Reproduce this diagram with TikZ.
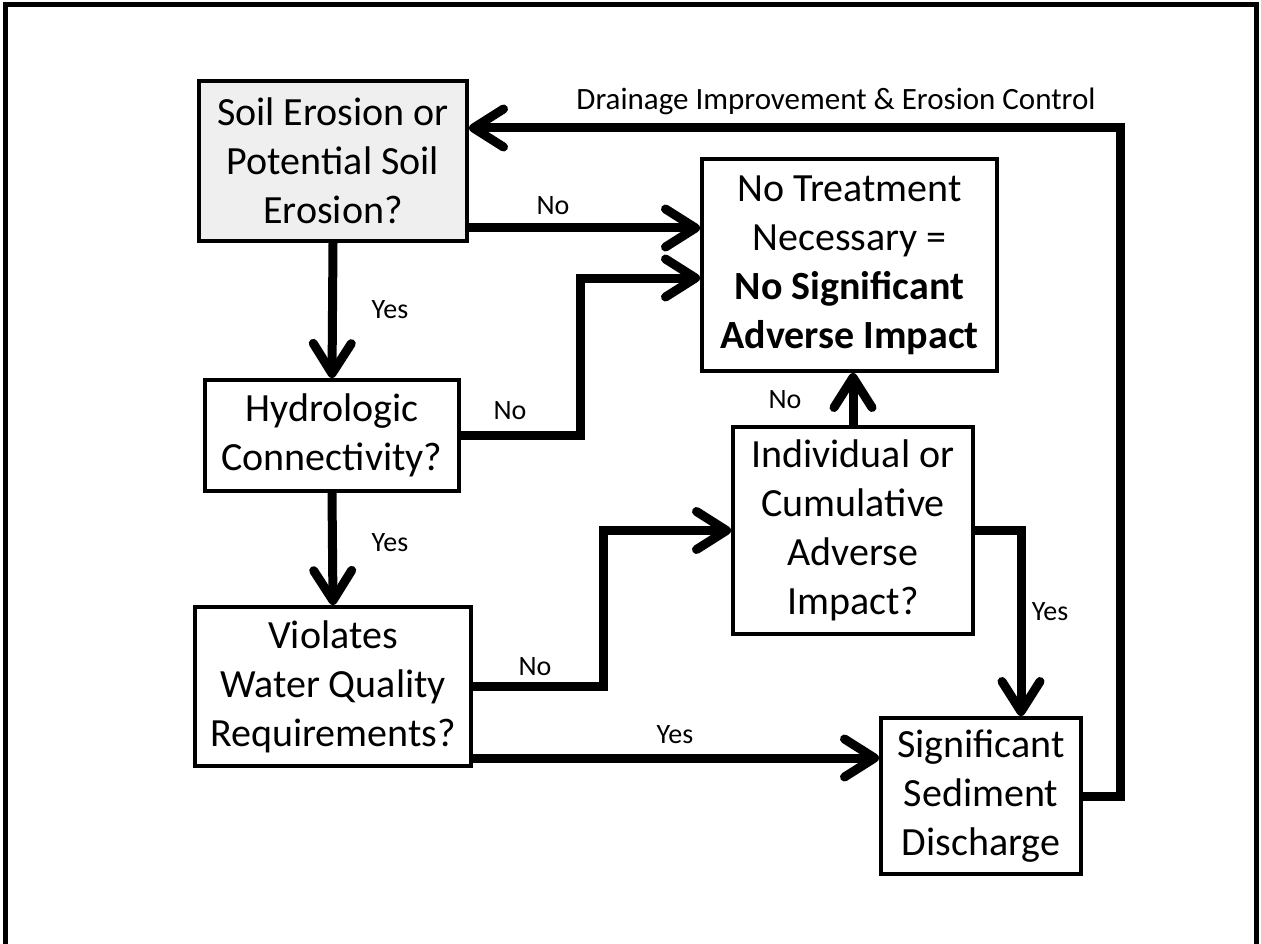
\documentclass[tikz,border=0pt]{standalone}
\usepackage{fontspec}
\setmainfont{Carlito}
\usetikzlibrary{arrows.meta,calc}
\definecolor{boxgray}{HTML}{EFEFEF}
\begin{document}
\begin{tikzpicture}[x=1pt,y=-1pt,
  box/.style={draw, line width=4pt, align=center, inner sep=0pt, font=\fontsize{40}{49}\selectfont},
  conn/.style={line width=9pt, -{Straight Barb[length=30pt,width=38pt,round]}},
  lbl/.style={font=\fontsize{28}{34}\selectfont, inner sep=0pt}]
\useasboundingbox (0,0) rectangle (1261,944);
\draw[line width=5pt] (5,960) -- (5,5) -- (1256,5) -- (1256,960);

\node[box, fill=boxgray, minimum width=268pt, minimum height=160pt] (A) at (333,161) {Soil Erosion or\\Poten\kern0pt tial Soil\\Erosion?};
\node[box, minimum width=295pt, minimum height=212pt] (B) at (849.5,265) {No Treatment\\Necessary =\\\textbf{No Significant}\\\textbf{Adverse Impact}};
\node[box, minimum width=254pt, minimum height=111pt] (C) at (332,435.5) {Hydrologic\\Connec\kern0pt tivity?};
\node[box, minimum width=276pt, minimum height=159pt] (D) at (333,686.5) {Violates\\Water Quality\\Requirements?};
\node[box, minimum width=240pt, minimum height=207pt] (E) at (853,530.5) {Individual or\\Cumula\kern0pt tive\\Adverse\\Impact?};
\node[box, minimum width=200pt, minimum height=156pt] (F) at (981,796) {Significant\\Sediment\\Discharge};

\coordinate (ab) at (0,228);
\coordinate (cb) at (580,278);
\coordinate (de) at (603,0);
\coordinate (df) at (0,758);
\coordinate (ef) at (1021,0);
\coordinate (fa) at (1120,128);

\draw[conn] (A.east |- ab) -- (B.west |- ab);
\draw[conn] (A.south) -- (C.north);
\draw[conn] (C.east) -| (cb) -- (B.west |- cb);
\draw[conn] (C.south) -- (D.north);
\draw[conn] (D.east) -| (de |- E.west) -- (E.west);
\draw[conn] (D.east |- df) -- (F.west |- df);
\draw[conn] (E.north) -- (E.north |- B.south);
\draw[conn] (E.east) -| (ef |- F.north);
\draw[conn] (F.east) -| (fa) -- (A.east |- fa);

\node[lbl] (l1) at (553,206) {No};
\node[lbl] (l2) at (390,310) {Yes};
\node[lbl] (l3) at (510,411) {No};
\node[lbl] (l4) at (390,543) {Yes};
\node[lbl] (l5) at (785,400) {No};
\node[lbl] (l6) at (535,667) {No};
\node[lbl] (l7) at (675,735) {Yes};
\node[lbl] (l8) at (1050,612) {Yes};
\node[lbl, font=\fontsize{31}{36}\selectfont] (l9) at (836,101) {Drainage Improvement \& Erosion Control};
\end{tikzpicture}
\end{document}
